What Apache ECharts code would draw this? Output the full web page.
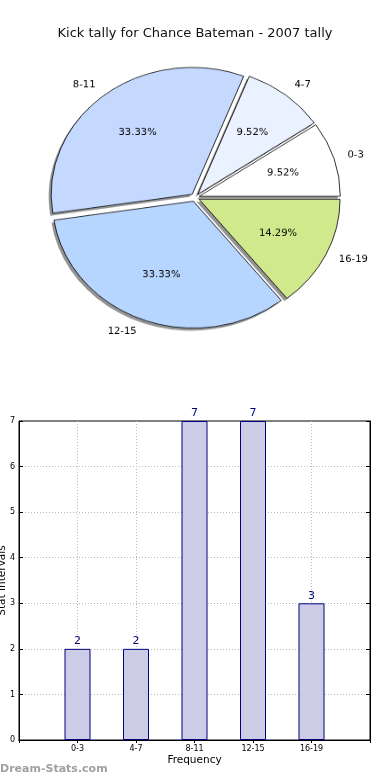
<!DOCTYPE html>
<html><head><meta charset="utf-8">
<script src="https://cdn.jsdelivr.net/npm/echarts@6/dist/echarts.min.js"></script>
<style>
html,body{margin:0;padding:0;background:#fff;}
#main{position:absolute;left:0;top:0;width:390px;height:780px;}
#pie{position:absolute;left:0;top:0;width:390px;height:420px;transform:scaleY(0.9);transform-origin:0 0;pointer-events:none;}
</style></head><body>
<div id="main"></div><div id="pie"></div>
<script>
const titleText = 'Kick tally for Chance Bateman - 2007 tally';
const categories = ['0-3', '4-7', '8-11', '12-15', '16-19'];
const counts = [2, 2, 7, 7, 3];
const sliceColors = ['#ffffff', '#eaf2ff', '#c5d9ff', '#b7d6ff', '#d0e98c'];
const yMin = 0, yMax = 7, yStep = 1;
const xAxisName = 'Frequency';
const yAxisName = 'Stat Intervals';
const watermark = 'Dream-Stats.com';

const FONT = 'DejaVu Sans';

// ---------- bar chart + title ----------
const main = echarts.init(document.getElementById('main'), null, {renderer: 'canvas'});
const xCats = [''].concat(categories, ['']);
const barData = [null].concat(counts, [null]);
const dotted = {type: [1, 2], color: '#b8b8b8', width: 1};
main.setOption({
  animation: false,
  backgroundColor: '#fff',
  title: {
    text: titleText, left: 'center', top: 22,
    textStyle: {fontFamily: FONT, fontSize: 13, fontWeight: 'normal', color: '#111'}
  },
  grid: {left: 19, right: 20, top: 421, bottom: 40, show: true, borderColor: '#000', borderWidth: 1,
         containLabel: false, outerBoundsMode: 'none'},
  xAxis: [{
    type: 'category', data: xCats, boundaryGap: false,
    axisLine: {lineStyle: {color: '#000', width: 1}},
    axisTick: {show: true, inside: true, length: 3, lineStyle: {color: '#000'}},
    axisLabel: {fontFamily: FONT, fontSize: 8, color: '#000', margin: 5, interval: 0},
    splitLine: {show: true, showMinLine: false, showMaxLine: false, lineStyle: dotted},
    name: xAxisName, nameLocation: 'middle', nameGap: 15, nameMoveOverlap: false,
    nameTextStyle: {fontFamily: FONT, fontSize: 10.5, color: '#000'}
  }, {
    type: 'category', data: xCats, boundaryGap: false, position: 'top',
    axisLine: {show: true, lineStyle: {color: '#000', width: 1}},
    axisTick: {show: true, inside: true, length: 3, lineStyle: {color: '#000'}},
    axisLabel: {show: false}, splitLine: {show: false}
  }],
  yAxis: [{
    type: 'value', min: yMin, max: yMax, interval: yStep,
    axisLine: {show: true, lineStyle: {color: '#000', width: 1}},
    axisTick: {show: true, inside: true, length: 4, lineStyle: {color: '#000'}},
    axisLabel: {fontFamily: FONT, fontSize: 8, color: '#000', margin: 4},
    splitLine: {show: true, showMinLine: false, showMaxLine: false, lineStyle: dotted},
    name: yAxisName, nameLocation: 'middle', nameGap: 11, nameMoveOverlap: false,
    nameTextStyle: {fontFamily: FONT, fontSize: 10.5, color: '#000'}
  }, {
    type: 'value', position: 'right', min: yMin, max: yMax, interval: yStep,
    axisLine: {show: true, lineStyle: {color: '#000', width: 1}},
    axisTick: {show: true, inside: true, length: 4, lineStyle: {color: '#000'}},
    axisLabel: {show: false}, splitLine: {show: false}
  }],
  series: [{
    type: 'bar', data: barData, barWidth: 26, silent: true,
    itemStyle: {color: '#ccccE6', borderColor: '#000080', borderWidth: 1},
    label: {show: true, position: 'top', distance: 2, color: '#000080', fontFamily: FONT, fontSize: 11}
  }],
  graphic: [{
    type: 'text', left: 0, top: 764,
    style: {text: watermark, fill: '#a0a0a0', font: 'bold 11px "DejaVu Sans"'}
  }]
});

// ---------- pie chart (squashed vertically to the reference's ellipse) ----------
const pie = echarts.init(document.getElementById('pie'), null, {renderer: 'canvas'});
const R = 141;
const C = [195, 219.4];
const total = counts.reduce((a, b) => a + b, 0);
const sliceStyle = {borderColor: '#000', borderWidth: 0.8};
const pieData = categories.map((c, i) => ({name: c, value: counts[i], selected: true, itemStyle: {color: sliceColors[i]}}));
const plainData = categories.map((c, i) => ({name: c, value: counts[i], selected: true}));
const common = {
  type: 'pie', startAngle: 0, clockwise: false, selectedMode: 'multiple', selectedOffset: 4.5,
  avoidLabelOverlap: false, silent: true, emphasis: {disabled: true}
};
pie.setOption({
  animation: false,
  series: [Object.assign({}, common, {
    // drop shadow layer
    z: 1, center: [C[0] - 2.5, C[1] + 2.8], radius: [0, R],
    itemStyle: {color: 'rgba(0,0,0,0.42)', borderWidth: 0},
    select: {itemStyle: {color: 'rgba(0,0,0,0.42)', borderWidth: 0}},
    label: {show: false}, labelLine: {show: false},
    data: plainData
  }), Object.assign({}, common, {
    z: 2, center: C, radius: [0, R],
    itemStyle: sliceStyle,
    select: {itemStyle: sliceStyle},
    label: {show: true, position: 'outside', formatter: '{b}', fontFamily: FONT, fontSize: 10, color: '#000', distanceToLabelLine: 0},
    labelLine: {show: false, length: 14.1, length2: 0},
    data: pieData
  }), Object.assign({}, common, {
    z: 3, center: C, radius: [0, R * 1.2],
    itemStyle: {color: 'rgba(0,0,0,0)', borderWidth: 0},
    select: {itemStyle: {color: 'rgba(0,0,0,0)', borderWidth: 0}},
    label: {show: true, position: 'inside', fontFamily: FONT, fontSize: 10, color: '#000',
            formatter: p => (p.value / total * 100).toFixed(2) + '%'},
    labelLine: {show: false},
    data: plainData
  })]
});
</script>
</body></html>
